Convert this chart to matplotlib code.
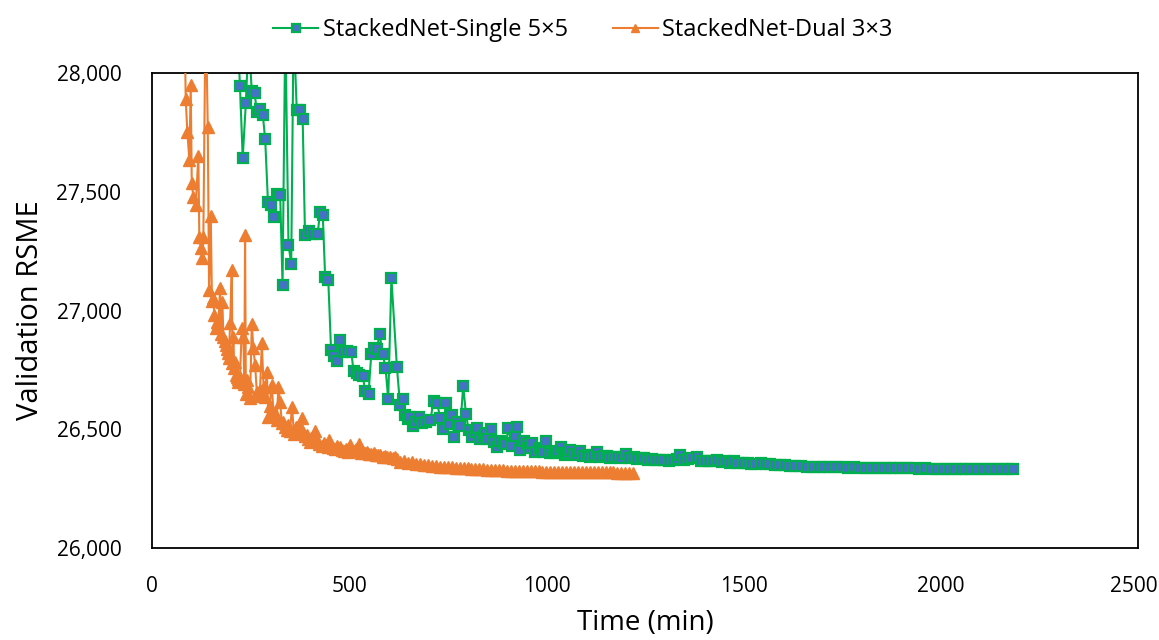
import matplotlib
matplotlib.use("Agg")
import matplotlib.pyplot as plt
from matplotlib.ticker import FuncFormatter
from matplotlib.transforms import ScaledTranslation

plt.rcParams['font.family'] = ['Open Sans', 'DejaVu Sans']

# ---------------- data ----------------
single_time_early = [200, 215, 223, 230, 238, 245, 253, 260, 266, 274,
                     281, 287, 294, 302, 310, 317, 325, 331, 338, 346,
                     353, 359, 367, 376, 382, 388, 397, 409, 420, 426,
                     433, 439, 447, 454, 462, 469, 476, 485, 494, 505,
                     511, 519, 526, 534, 541, 549, 556, 563, 570, 577,
                     585, 592, 599, 607, 621, 629, 636]
single_rmse_early = [28600, 28250, 27945, 27643, 27875, 28150, 27923, 27917, 27836, 27850,
                     27822, 27721, 27457, 27446, 27394, 27492, 27485, 27109, 28200, 27277,
                     27197, 28200, 27846, 27843, 27808, 27317, 27334, 27323, 27321, 27414,
                     27403, 27141, 27127, 26834, 26809, 26789, 26876, 26825, 26831, 26827,
                     26747, 26738, 26730, 26724, 26661, 26649, 26817, 26841, 26837, 26901,
                     26817, 26759, 26627, 27136, 26761, 26602, 26627]

single_time_mid = [642, 649, 655, 663, 670, 676, 684, 695, 706, 714,
                   723, 731, 738, 745, 752, 761, 766, 775, 782, 789,
                   796, 803, 811, 818, 824, 832, 838, 845, 852, 860,
                   867, 875, 883, 892, 898, 903, 913, 920, 926, 934,
                   944, 951, 957, 964, 972, 980, 987, 993, 999, 1010,
                   1017, 1023, 1030, 1036, 1042, 1048, 1055, 1061, 1070, 1078,
                   1085, 1093, 1103, 1110, 1118, 1129, 1137, 1145, 1154, 1162,
                   1171, 1180, 1190, 1201, 1210, 1222, 1230, 1240, 1247, 1258]
single_rmse_mid = [26560, 26545, 26550, 26514, 26530, 26550, 26525, 26530, 26539, 26620,
                   26609, 26546, 26500, 26609, 26522, 26560, 26469, 26532, 26514, 26684,
                   26564, 26497, 26469, 26490, 26504, 26458, 26470, 26483, 26460, 26500,
                   26445, 26427, 26452, 26441, 26440, 26504, 26430, 26472, 26511, 26413,
                   26452, 26438, 26420, 26441, 26406, 26420, 26413, 26405, 26452, 26402,
                   26405, 26400, 26410, 26424, 26400, 26392, 26398, 26413, 26395, 26390,
                   26410, 26388, 26392, 26385, 26390, 26406, 26385, 26388, 26388, 26380,
                   26385, 26382, 26378, 26396, 26380, 26382, 26376, 26378, 26378, 26372]

single_time_tail = [1268, 1278, 1288, 1298, 1310, 1320, 1332, 1340, 1350, 1360,
                    1370, 1382, 1392, 1402, 1412, 1422, 1433, 1445, 1455, 1465,
                    1475, 1487, 1498, 1510, 1520, 1532, 1545, 1556, 1568, 1580,
                    1592, 1605, 1618, 1630, 1645, 1660, 1675, 1690, 1705, 1720,
                    1735, 1750, 1765, 1780, 1795, 1810, 1825, 1840, 1855, 1870,
                    1885, 1900, 1915, 1930, 1945, 1960, 1975, 1990, 2005, 2020,
                    2035, 2050, 2065, 2080, 2095, 2110, 2125, 2140, 2155, 2170,
                    2182]
single_rmse_tail = [26375, 26370, 26372, 26371, 26368, 26372, 26374, 26390, 26372, 26375,
                    26380, 26385, 26368, 26366, 26368, 26365, 26370, 26362, 26365, 26360,
                    26368, 26358, 26356, 26360, 26355, 26354, 26358, 26352, 26355, 26350,
                    26348, 26350, 26345, 26346, 26344, 26342, 26343, 26341, 26340, 26341,
                    26339, 26340, 26338, 26339, 26337, 26338, 26336, 26337, 26336, 26336,
                    26335, 26336, 26335, 26335, 26334, 26335, 26334, 26334, 26334, 26333,
                    26333, 26333, 26333, 26332, 26333, 26332, 26332, 26332, 26332, 26332,
                    26331]

dual_time_early = [81, 85.5, 89.6, 94.7, 98.2, 100.8, 104.8, 110.9, 117.5, 120,
                   124, 127.7, 130.2, 136, 141.4, 144.7, 149, 152, 155.6, 158,
                   161.7, 165, 168.3, 172.6, 175, 178.4, 181, 184, 187, 190,
                   192, 195, 198, 202.3, 204, 206.3, 208.5, 210.7, 213, 215,
                   217, 219, 223, 227.7, 231.7, 234, 236, 238, 240.4, 244.4,
                   248.7, 253, 257, 261.4, 265.7, 270, 274, 278.4, 283, 286.8,
                   291, 295, 298, 303.8, 308, 312, 316, 320.6, 324.9, 329,
                   333, 337, 342, 346, 350, 355, 360, 365, 371, 375,
                   380, 384, 388, 392, 396, 400, 404, 409, 414, 419,
                   424, 430, 435, 440, 445, 450, 455, 460, 465, 470,
                   477, 482, 487, 492, 497, 503, 508, 513, 518, 524,
                   529, 534, 540, 545, 550, 556, 562, 568, 574, 579,
                   585, 591, 597, 604, 610, 616, 622, 629]
dual_rmse_early = [28400, 27889, 27752, 27632, 27948, 27538, 27478, 27443, 27650, 27310,
                   27262, 27220, 27310, 28300, 27773, 27086, 27398, 27040, 27051, 26980,
                   26925, 26950, 26946, 27094, 26900, 27037, 26890, 26870, 26855, 26840,
                   26820, 26800, 26946, 27171, 26780, 26890, 26760, 26785, 26730, 26721,
                   26710, 26700, 26720, 26925, 26890, 26690, 27318, 26650, 26708, 26679,
                   26630, 26943, 26841, 26771, 26658, 26640, 26665, 26862, 26679, 26637,
                   26743, 26553, 26600, 26687, 26567, 26567, 26539, 26679, 26616, 26528,
                   26530, 26510, 26497, 26520, 26494, 26595, 26480, 26510, 26495, 26500,
                   26546, 26490, 26470, 26475, 26460, 26448, 26465, 26450, 26494, 26452,
                   26440, 26430, 26441, 26432, 26425, 26455, 26428, 26420, 26415, 26430,
                   26427, 26412, 26410, 26418, 26405, 26434, 26410, 26408, 26415, 26440,
                   26400, 26404, 26398, 26406, 26395, 26395, 26400, 26390, 26392, 26392,
                   26385, 26387, 26383, 26385, 26378, 26382, 26375, 26364]

dual_time_tail = [640, 650, 660, 670, 680, 690, 700, 710, 720, 730,
                  740, 750, 760, 770, 780, 790, 800, 810, 820, 830,
                  840, 850, 860, 870, 880, 890, 900, 910, 920, 930,
                  940, 950, 960, 970, 980, 990, 1000, 1010, 1020, 1030,
                  1040, 1050, 1060, 1070, 1080, 1090, 1100, 1110, 1120, 1130,
                  1140, 1150, 1160, 1170, 1180, 1190, 1200, 1210, 1220]
dual_rmse_tail = [26368, 26358, 26362, 26352, 26355, 26348, 26350, 26345, 26346, 26342,
                  26343, 26340, 26341, 26337, 26338, 26335, 26335, 26333, 26333, 26331,
                  26331, 26330, 26329, 26328, 26328, 26327, 26326, 26326, 26325, 26325,
                  26324, 26324, 26323, 26323, 26323, 26322, 26322, 26322, 26321, 26321,
                  26321, 26320, 26320, 26320, 26320, 26319, 26319, 26319, 26319, 26318,
                  26318, 26318, 26318, 26318, 26317, 26317, 26317, 26317, 26317]

series_labels = ["StackedNet-Single 5\u00d75", "StackedNet-Dual 3\u00d73"]
x_ticks = [0, 500, 1000, 1500, 2000, 2500]
y_ticks = [26000, 26500, 27000, 27500, 28000]

single_time = single_time_early + single_time_mid + single_time_tail
single_rmse = single_rmse_early + single_rmse_mid + single_rmse_tail
dual_time = dual_time_early + dual_time_tail
dual_rmse = dual_rmse_early + dual_rmse_tail

# ---------------- plot ----------------
GREEN = "#00B050"
BLUE = "#4472C4"
ORANGE = "#ED7D31"

fig = plt.figure(figsize=(11.59, 6.40), dpi=100)
ax = fig.add_axes([152/1159, 1-548/640, (1138-152)/1159, (548-73)/640])

ax.plot(single_time, single_rmse, color=GREEN, lw=1.5, marker="s", markersize=7,
        markerfacecolor=BLUE, markeredgecolor=GREEN, markeredgewidth=1.6,
        label=series_labels[0], zorder=2)
ax.plot(dual_time, dual_rmse, color=ORANGE, lw=1.5, marker="^", markersize=8,
        markerfacecolor=ORANGE, markeredgecolor=ORANGE, markeredgewidth=1,
        label=series_labels[1], zorder=3)

ax.set_xlim(0, 2500)
ax.set_ylim(26000, 28000)
ax.set_xticks(x_ticks)
ax.set_yticks(y_ticks)
ax.yaxis.set_major_formatter(FuncFormatter(lambda v, p: f"{int(v):,}"))
ax.tick_params(axis="both", length=0, labelsize=15, colors="black")
ax.tick_params(axis="y", pad=22)
ax.tick_params(axis="x", pad=20)
for s in ax.spines.values():
    s.set_linewidth(1.3)
    s.set_color("black")

# nudge the last x tick label slightly left so it stays inside the canvas
last_lbl = ax.xaxis.get_major_ticks()[-1].label1
last_lbl.set_transform(last_lbl.get_transform() +
                       ScaledTranslation(-4/100, 0, fig.dpi_scale_trans))

ax.set_xlabel("Time (min)", fontsize=20, labelpad=9)
ax.set_ylabel("Validation RSME", fontsize=21, labelpad=8)

fig.legend(loc="upper center", bbox_to_anchor=(0.503, 1.005), ncol=2, frameon=False,
           fontsize=17, handlelength=1.9, handletextpad=0.2, columnspacing=1.9,
           markerscale=0.8)

fig.savefig("out.png", dpi=100)
